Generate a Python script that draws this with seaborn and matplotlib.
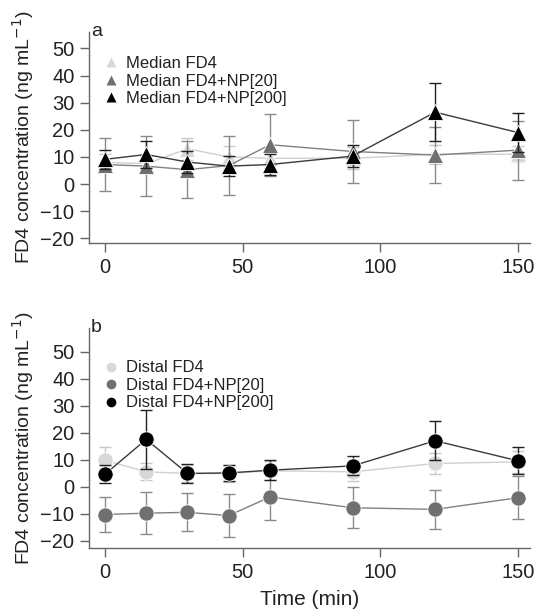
import numpy as np
import pandas as pd
import matplotlib
matplotlib.use("Agg")
import matplotlib.pyplot as plt
import seaborn as sns
from matplotlib.lines import Line2D

time = [0, 15, 30, 45, 60, 90, 120, 150]

# Panel a: Median
med_fd4 = [8.0, 7.5, 13.0, 10.0, 9.5, 9.5, 11.0, 11.0]
med_fd4_err = [3.0, 3.0, 4.0, 4.0, 3.5, 4.0, 3.5, 3.0]
med_np20 = [7.2, 6.6, 5.3, 6.8, 14.5, 12.0, 10.7, 12.5]
med_np20_err = [9.7, 11.0, 10.5, 11.0, 11.5, 11.7, 10.2, 10.9]
med_np200 = [9.1, 10.9, 8.1, 6.6, 7.2, 10.3, 26.5, 19.0]
med_np200_err = [3.5, 5.0, 4.0, 3.7, 4.0, 4.0, 10.7, 7.3]

# Panel b: Distal
dis_fd4 = [9.9, 5.6, 5.0, 5.0, 6.0, 5.6, 8.7, 9.3]
dis_fd4_err = [5.0, 3.2, 3.0, 3.0, 3.5, 3.5, 4.0, 4.0]
dis_np20 = [-10.2, -9.7, -9.4, -10.6, -3.7, -7.7, -8.3, -4.0]
dis_np20_err = [6.6, 7.8, 7.0, 8.0, 8.7, 7.6, 7.2, 8.0]
dis_np200 = [4.7, 17.6, 5.0, 5.2, 6.2, 7.8, 17.1, 9.7]
dis_np200_err = [3.3, 11.0, 3.4, 3.0, 3.6, 3.5, 7.3, 5.0]

labels_a = ["Median FD4", "Median FD4+NP[20]", "Median FD4+NP[200]"]
labels_b = ["Distal FD4", "Distal FD4+NP[20]", "Distal FD4+NP[200]"]
yticks = [-20, -10, 0, 10, 20, 30, 40, 50]
xticks = [0, 50, 100, 150]

marker_cols = ["#d8d8d8", "#707070", "#000000"]
line_cols = ["#d0d0d0", "#808080", "#3a3a3a"]
err_cols = ["#c8c8c8", "#8a8a8a", "#202020"]

sns.set_theme(style="white")
plt.rcParams['font.family'] = ['Liberation Sans', 'DejaVu Sans']

fig = plt.figure(figsize=(5.36, 6.14), dpi=100)
ax_a = fig.add_axes([0.166, 0.604, 0.823, 0.344])
ax_b = fig.add_axes([0.166, 0.1075, 0.823, 0.3585])

def draw(ax, series, errs, labels, marker, ms, panel, ylim, leg_y):
    for i, (vals, e, lab) in enumerate(zip(series, errs, labels)):
        df = pd.DataFrame({"time": time, "value": vals})
        ax.errorbar(df["time"], df["value"], yerr=e, fmt="none",
                    ecolor=err_cols[i], elinewidth=1.0, capsize=4, capthick=1.0,
                    zorder=2 + i * 3)
        sns.lineplot(data=df, x="time", y="value", ax=ax, color=line_cols[i],
                     linewidth=1.0, zorder=3 + i * 3, legend=False)
        ax.plot(df["time"], df["value"], linestyle="none", marker=marker,
                markersize=ms, markerfacecolor=marker_cols[i],
                markeredgecolor="white", markeredgewidth=0.6, zorder=4 + i * 3)
    ax.set_xlim(-5.8, 154.5)
    ax.set_ylim(*ylim)
    ax.set_xticks(xticks)
    ax.set_yticks(yticks)
    ax.tick_params(axis="both", direction="out", length=6.5, width=1.0,
                   color="#666666", labelsize=14.5, labelcolor="#222222",
                   bottom=True, left=True, pad=4)
    for s in ["top", "right"]:
        ax.spines[s].set_visible(False)
    for s in ["left", "bottom"]:
        ax.spines[s].set_color("#666666")
        ax.spines[s].set_linewidth(1.0)
    ax.set_xlabel("")
    ax.set_ylabel("FD4 concentration (ng mL$^{-1}$)", fontsize=14,
                  color="#222222", labelpad=3)
    handles = [Line2D([0], [0], linestyle="none", marker=marker, markersize=7,
                      markerfacecolor=marker_cols[i], markeredgecolor="none")
               for i in range(3)]
    ax.legend(handles, labels, loc="upper left", bbox_to_anchor=(0.0, leg_y),
              frameon=False, fontsize=12, handletextpad=0.3, labelspacing=0.15,
              handlelength=1.2, borderaxespad=0.3, labelcolor="#222222")
    ax.text(0.005, 1.0, panel, transform=ax.transAxes, fontsize=14,
            ha="left", va="center", color="#222222")

draw(ax_a, [med_fd4, med_np20, med_np200], [med_fd4_err, med_np20_err, med_np200_err],
     labels_a, "^", 12, "a", (-21.8, 56.1), 0.94)
draw(ax_b, [dis_fd4, dis_np20, dis_np200], [dis_fd4_err, dis_np20_err, dis_np200_err],
     labels_b, "o", 11, "b", (-22.6, 58.9), 0.905)
ax_b.set_xlabel("Time (min)", fontsize=15, color="#222222", labelpad=6)

fig.savefig("out.png", dpi=100)
